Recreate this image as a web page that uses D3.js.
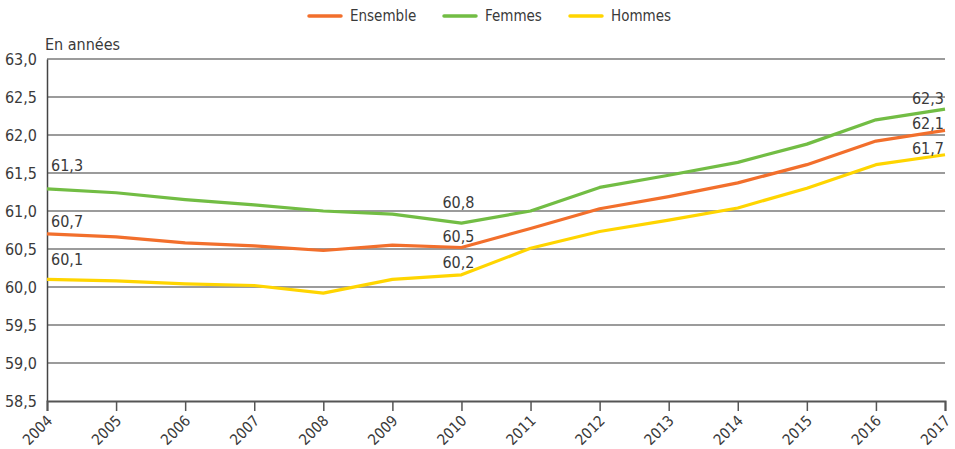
<!DOCTYPE html>
<html>
<head>
<meta charset="utf-8">
<script src="https://cdn.jsdelivr.net/npm/d3@7"></script>
<style>
  html, body { margin: 0; padding: 0; background: #fff; }
  svg text { font-family: "DejaVu Sans Condensed", "Liberation Sans Narrow", sans-serif; fill: #3a3a3a; }
</style>
</head>
<body>
<svg id="chart" width="955" height="449"></svg>
<script>
// Âge moyen, en années, 2004-2017
const years = [2004, 2005, 2006, 2007, 2008, 2009, 2010, 2011, 2012, 2013, 2014, 2015, 2016, 2017];
const ensemble = [60.70, 60.66, 60.58, 60.54, 60.48, 60.55, 60.52, 60.77, 61.03, 61.19, 61.37, 61.61, 61.92, 62.06];
const femmes   = [61.29, 61.24, 61.15, 61.08, 61.00, 60.96, 60.84, 61.00, 61.31, 61.47, 61.64, 61.88, 62.20, 62.34];
const hommes   = [60.10, 60.08, 60.04, 60.02, 59.92, 60.10, 60.16, 60.51, 60.73, 60.88, 61.04, 61.30, 61.61, 61.74];
const seriesNames = ["Ensemble", "Femmes", "Hommes"];
const yTicks = [58.5, 59.0, 59.5, 60.0, 60.5, 61.0, 61.5, 62.0, 62.5, 63.0];
const labelYears = [2004, 2010, 2017];

const colors = { Ensemble: "#f26f2c", Femmes: "#72bd44", Hommes: "#ffd500" };
const seriesData = { Ensemble: ensemble, Femmes: femmes, Hommes: hommes };

const svg = d3.select("#chart");
const margin = { left: 47, right: 10, top: 59, bottom: 48 };
const W = 955, H = 449;

const x = d3.scaleLinear().domain([2004, 2017]).range([margin.left, W - margin.right]);
const y = d3.scaleLinear().domain([58.5, 63.0]).range([H - margin.bottom, margin.top]);
const fmt = v => d3.format(".1f")(v).replace(".", ",");

// horizontal grid
svg.append("g")
  .selectAll("line")
  .data(yTicks.filter(t => t > 58.5))
  .join("line")
  .attr("x1", x(2004)).attr("x2", x(2017))
  .attr("y1", d => y(d)).attr("y2", d => y(d))
  .attr("stroke", "#7a7a7a").attr("stroke-width", 1.3);

// y axis labels
const yAxis = d3.axisLeft(y).tickValues(yTicks).tickFormat(fmt).tickSize(0).tickPadding(10);
const gy = svg.append("g").attr("transform", `translate(${margin.left},0)`).call(yAxis);
gy.select(".domain").attr("stroke", "#444").attr("stroke-width", 1.5);
gy.selectAll("text").style("font-size", "16px").attr("dy", "0.35em");

// x axis
const xAxis = d3.axisBottom(x).tickValues(years).tickFormat(d3.format("d")).tickSize(10);
const gx = svg.append("g").attr("transform", `translate(0,${y(58.5)})`).call(xAxis);
gx.select(".domain").attr("stroke", "#555").attr("stroke-width", 2);
gx.selectAll(".tick line").attr("stroke", "#555").attr("stroke-width", 1.5);
gx.selectAll("text")
  .style("font-size", "15px")
  .attr("text-anchor", "end")
  .attr("x", 0).attr("y", 0)
  .attr("dy", "0.35em")
  .attr("transform", "translate(2,17) rotate(-45)");

// unit label
svg.append("text").attr("x", 45).attr("y", 50).style("font-size", "16px").text("En années");

// lines
const line = d3.line().x((d, i) => x(years[i])).y(d => y(d));
["Femmes", "Ensemble", "Hommes"].forEach(name => {
  svg.append("path")
    .datum(seriesData[name])
    .attr("fill", "none")
    .attr("stroke", colors[name])
    .attr("stroke-width", 3.2)
    .attr("stroke-linejoin", "round")
    .attr("d", line);
});

// value labels
const labelOffsets = {
  2004: { Femmes: 18, Ensemble: 7, Hommes: 14 },
  2010: { Femmes: 15, Ensemble: 5, Hommes: 7 },
  2017: { Femmes: 5, Ensemble: 1, Hommes: 1 }
};
labelYears.forEach(yr => {
  const i = years.indexOf(yr);
  seriesNames.forEach(name => {
    const v = seriesData[name][i];
    let tx = x(yr), anchor = "middle";
    if (yr === 2004) { tx = x(yr) + 4; anchor = "start"; }
    if (yr === 2017) { tx = x(yr) - 1; anchor = "end"; }
    if (yr === 2010) { tx = x(yr) - 3; }
    svg.append("text")
      .attr("x", tx)
      .attr("y", y(v) - labelOffsets[yr][name])
      .attr("text-anchor", anchor)
      .style("font-size", "16px")
      .text(fmt(v));
  });
});

// legend
const legendPos = [309, 444, 570];
const lg = svg.append("g");
seriesNames.forEach((name, k) => {
  const g = lg.append("g").attr("transform", `translate(${legendPos[k]},16)`);
  g.append("line").attr("x1", 0).attr("x2", 32).attr("y1", 0).attr("y2", 0)
    .attr("stroke", colors[name]).attr("stroke-width", 3.5).attr("stroke-linecap", "round");
  g.append("text").attr("x", 41).attr("y", 0).attr("dy", "0.35em")
    .style("font-size", "15px").text(name);
});
</script>
</body>
</html>
